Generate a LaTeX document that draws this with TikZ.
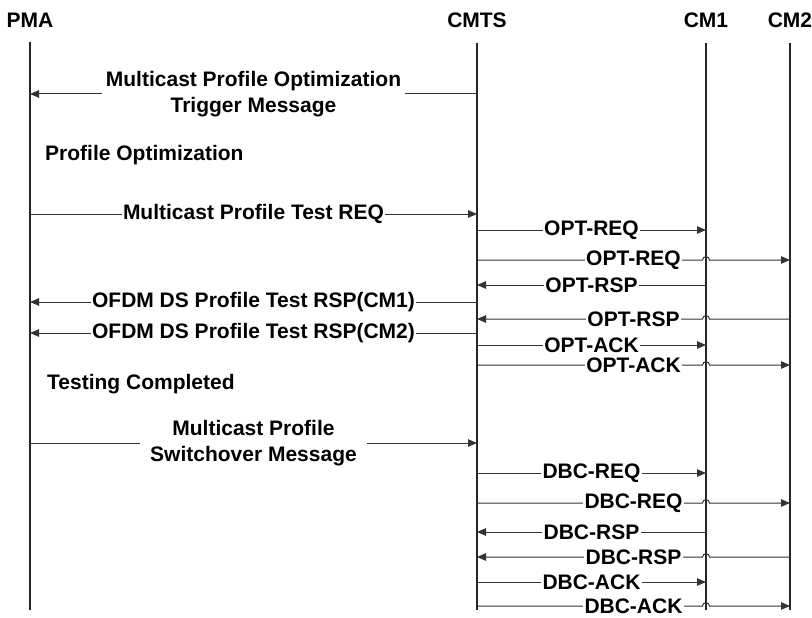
\documentclass[tikz,border=0pt]{standalone}
\usepackage{fontspec}
\setmainfont{Liberation Sans}
\usetikzlibrary{arrows.meta,calc}

\tikzset{
  party/.style={font=\bfseries\fontsize{21}{26}\selectfont, inner sep=0pt},
  lifeline/.style={line width=1.5pt, black!85},
  msg/.style={line width=1pt, black!80, -{Triangle[length=9pt,width=7.5pt]}},
  hop/.style={out=90, in=90, looseness=1.6},
  msglabel/.style={fill=white, text=black, inner sep=1.5pt, align=center,
                   font=\bfseries\fontsize{21}{26}\selectfont},
  note/.style={anchor=west, inner sep=0pt, font=\bfseries\fontsize{21}{26}\selectfont},
}

\begin{document}
\begin{tikzpicture}[x=1pt,y=-1pt]
\useasboundingbox (0,0) rectangle (812,618);
%the four parties across the top, each one with its life line
\foreach \n/\t/\x in {pma/PMA/30, cmts/CMTS/477, cm1/CM1/706, cm2/CM2/790}{
  \node[party] (\n) at (\x,20) {\t};
  \coordinate (\n end) at (\x,610);
  \draw[lifeline] ([yshift=-15pt]\n.south) -- (\n end);
}
% rows where the messages run
\foreach \r/\y in {trig/94, testreq/214, oreq1/230, oreq2/260, orsp1/285,
                   rsp1/302, orsp2/319, rsp2/333, oack1/345, oack2/365,
                   swo/443, dreq1/473, dreq2/503, drsp1/532, drsp2/557,
                   dack1/582, dack2/606}
  \coordinate (\r) at (0,\y);

% PMA <-> CMTS
\draw[msg] (cmts |- trig) -- (pma |- trig)
  node[midway, msglabel, inner xsep=4pt]{Multicast Profile Optimization\\Trigger Message};
\node[note] (po) at (45,155) {Profile Optimization};
\draw[msg] (pma |- testreq) -- (cmts |- testreq) node[midway, msglabel]{Multicast Profile Test REQ};
\draw[msg] (cmts |- rsp1) -- (pma |- rsp1) node[midway, msglabel]{OFDM DS Profile Test RSP(CM1)};
\draw[msg] (cmts |- rsp2) -- (pma |- rsp2) node[midway, msglabel]{OFDM DS Profile Test RSP(CM2)};
\node[note] (tc) at (47,384) {Testing Completed};
\draw[msg] (pma |- swo) -- (cmts |- swo)
  node[midway, msglabel, inner xsep=10pt]{Multicast Profile\\Switchover Message};

% CMTS <-> CM1 and CM2 (the lines to CM2 hop over CM1)
\draw[msg] (cmts |- oreq1) -- (cm1 |- oreq1) node[midway, msglabel]{OPT-REQ};
\draw[msg] (cmts |- oreq2) -- ($(cm1 |- oreq2)+(-3.5,0)$) to[hop] ($(cm1 |- oreq2)+(3.5,0)$) -- (cm2 |- oreq2);
\node[msglabel] at ($(cmts |- oreq2)!.5!(cm2 |- oreq2)$) {OPT-REQ};
\draw[msg] (cm1 |- orsp1) -- (cmts |- orsp1) node[midway, msglabel]{OPT-RSP};
\draw[msg] (cm2 |- orsp2) -- ($(cm1 |- orsp2)+(3.5,0)$) to[hop] ($(cm1 |- orsp2)+(-3.5,0)$) -- (cmts |- orsp2);
\node[msglabel] at ($(cmts |- orsp2)!.5!(cm2 |- orsp2)$) {OPT-RSP};
\draw[msg] (cmts |- oack1) -- (cm1 |- oack1) node[midway, msglabel]{OPT-ACK};
\draw[msg] (cmts |- oack2) -- ($(cm1 |- oack2)+(-3.5,0)$) to[hop] ($(cm1 |- oack2)+(3.5,0)$) -- (cm2 |- oack2);
\node[msglabel] at ($(cmts |- oack2)!.5!(cm2 |- oack2)$) {OPT-ACK};

\draw[msg] (cmts |- dreq1) -- (cm1 |- dreq1) node[midway, msglabel]{DBC-REQ};
\draw[msg] (cmts |- dreq2) -- ($(cm1 |- dreq2)+(-3.5,0)$) to[hop] ($(cm1 |- dreq2)+(3.5,0)$) -- (cm2 |- dreq2);
\node[msglabel] at ($(cmts |- dreq2)!.5!(cm2 |- dreq2)$) {DBC-REQ};
\draw[msg] (cm1 |- drsp1) -- (cmts |- drsp1) node[midway, msglabel]{DBC-RSP};
\draw[msg] (cm2 |- drsp2) -- ($(cm1 |- drsp2)+(3.5,0)$) to[hop] ($(cm1 |- drsp2)+(-3.5,0)$) -- (cmts |- drsp2);
\node[msglabel] at ($(cmts |- drsp2)!.5!(cm2 |- drsp2)$) {DBC-RSP};
\draw[msg] (cmts |- dack1) -- (cm1 |- dack1) node[midway, msglabel]{DBC-ACK};
\draw[msg] (cmts |- dack2) -- ($(cm1 |- dack2)+(-3.5,0)$) to[hop] ($(cm1 |- dack2)+(3.5,0)$) -- (cm2 |- dack2);
\node[msglabel] at ($(cmts |- dack2)!.5!(cm2 |- dack2)$) {DBC-ACK};
\end{tikzpicture}
\end{document}
